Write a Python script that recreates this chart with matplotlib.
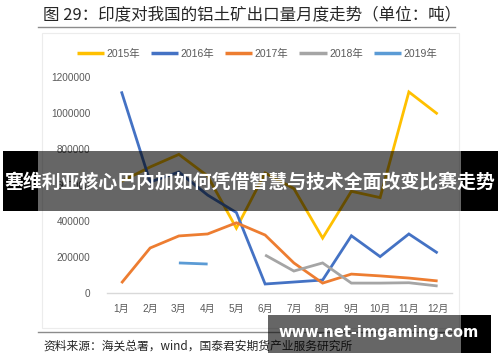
import matplotlib
matplotlib.use("Agg")
import matplotlib.pyplot as plt
from matplotlib.patches import Rectangle
from matplotlib.lines import Line2D
import numpy as np

plt.rcParams['font.family'] = ['Liberation Sans', 'Noto Sans CJK SC', 'DejaVu Sans']

months = ["1月", "2月", "3月", "4月", "5月", "6月", "7月", "8月", "9月", "10月", "11月", "12月"]
series_names = ["2015年", "2016年", "2017年", "2018年", "2019年"]
v2015 = [620000, 700000, 770000, 650000, 360000, 667000, 580000, 305000, 565000, 530000, 1117000, 994000]
v2016 = [1120000, 617000, 672000, 544000, 447000, 50000, 61000, 72000, 318000, 202000, 328000, 222000]
v2017 = [55000, 250000, 317000, 328000, 390000, 322000, 167000, 55000, 105000, 95000, 83000, 67000]
v2018 = [None, None, None, None, None, 211000, 122000, 167000, 55000, 55000, 57000, 39000]
v2019 = [None, None, 167000, 161000, None, None, None, None, None, None, None, None]
yticks = [0, 200000, 400000, 600000, 800000, 1000000, 1200000]
colors = ["#FFC000", "#4472C4", "#ED7D31", "#A5A5A5", "#5B9BD5"]

title_text = "图 29：印度对我国的铝土矿出口量月度走势（单位：吨）"
source_text = "资料来源：海关总署，wind，国泰君安期货产业服务研究所"
banner_text = "塞维利亚核心巴内加如何凭借智慧与技术全面改变比赛走势"
url_text = "www.net-imgaming.com"

W, H = 500, 362
fig = plt.figure(figsize=(W / 100, H / 100), dpi=100)
fig.patch.set_facecolor("white")

def fx(x):
    return x / W

def fy(y):
    return 1 - y / H

# faint chart frame
fig.patches.append(Rectangle((fx(42), fy(328)), fx(459) - fx(42), fy(33) - fy(328),
                             transform=fig.transFigure, fill=False, ec="#ececec", lw=0.8))

ax = fig.add_axes([fx(107), fy(293), fx(452) - fx(107), fy(77) - fy(293)])
x = np.arange(len(months))
for name, vals, c in zip(series_names, [v2015, v2016, v2017, v2018, v2019], colors):
    arr = np.array([np.nan if v is None else v for v in vals], dtype=float)
    ax.plot(x, arr, color=c, lw=2.0, label=name, solid_capstyle="butt", solid_joinstyle="miter")

ax.set_xlim(-0.5, 11.5)
ax.set_ylim(0, 1200000)
ax.set_xticks(x)
ax.set_xticklabels(months)
ax.set_yticks(yticks)
ax.set_yticklabels([str(v) for v in yticks])
for s in ["top", "right", "left"]:
    ax.spines[s].set_visible(False)
ax.spines["bottom"].set_color("#d9d9d9")
ax.spines["bottom"].set_linewidth(1.0)
ax.tick_params(axis="both", length=0, labelsize=7.2, colors="#595959")
ax.tick_params(axis="x", pad=8)
ax.tick_params(axis="y", pad=12)
ax.patch.set_alpha(0)

leg = fig.legend(loc="center", bbox_to_anchor=(fx(257), fy(54)), ncol=5, frameon=False,
                 fontsize=7.5, handlelength=2.6, handletextpad=0.25, columnspacing=1.05,
                 labelcolor="#595959")
for h in leg.get_lines():
    h.set_linewidth(2.5)

# title and rules
fig.text(fx(43), fy(15), title_text, fontsize=11.9, color="#262626", va="center", ha="left",
         family=["Noto Sans CJK SC", "DejaVu Sans"])
fig.add_artist(Line2D([fx(38), fx(455)], [fy(27), fy(27)], transform=fig.transFigure,
                      color="#8c8c8c", lw=1.0))
fig.add_artist(Line2D([fx(38), fx(455)], [fy(332), fy(332)], transform=fig.transFigure,
                      color="#8c8c8c", lw=1.0))
fig.text(fx(43), fy(346), source_text, fontsize=8.5, color="#262626", va="center", ha="left",
         family=["Noto Sans CJK SC", "DejaVu Sans"])

# overlay banners
fig.patches.append(Rectangle((fx(38), fy(211)), fx(461) - fx(38), fy(151) - fy(211),
                             transform=fig.transFigure, fc="black", alpha=0.6, ec="none", zorder=10))
fig.patches.append(Rectangle((fx(3), fy(211)), fx(38) - fx(3), fy(151) - fy(211),
                             transform=fig.transFigure, fc="black", ec="none", zorder=10))
fig.patches.append(Rectangle((fx(461), fy(211)), fx(498) - fx(461), fy(151) - fy(211),
                             transform=fig.transFigure, fc="black", ec="none", zorder=10))
fig.text(fx(250), fy(182), banner_text, fontsize=13.6, color="white", weight="bold",
         ha="center", va="center", family=["Noto Sans CJK SC", "DejaVu Sans"], zorder=11)

fig.patches.append(Rectangle((fx(268), fy(353)), fx(461) - fx(268), fy(315) - fy(353),
                             transform=fig.transFigure, fc="black", alpha=0.6, ec="none", zorder=10))
fig.patches.append(Rectangle((fx(461), fy(353)), fx(491) - fx(461), fy(315) - fy(353),
                             transform=fig.transFigure, fc="black", ec="none", zorder=10))
fig.text(fx(379), fy(333), url_text, fontsize=10.5, color="white", weight="bold",
         ha="center", va="center", family=["DejaVu Sans"], zorder=11)

fig.savefig("out.png", dpi=100)
